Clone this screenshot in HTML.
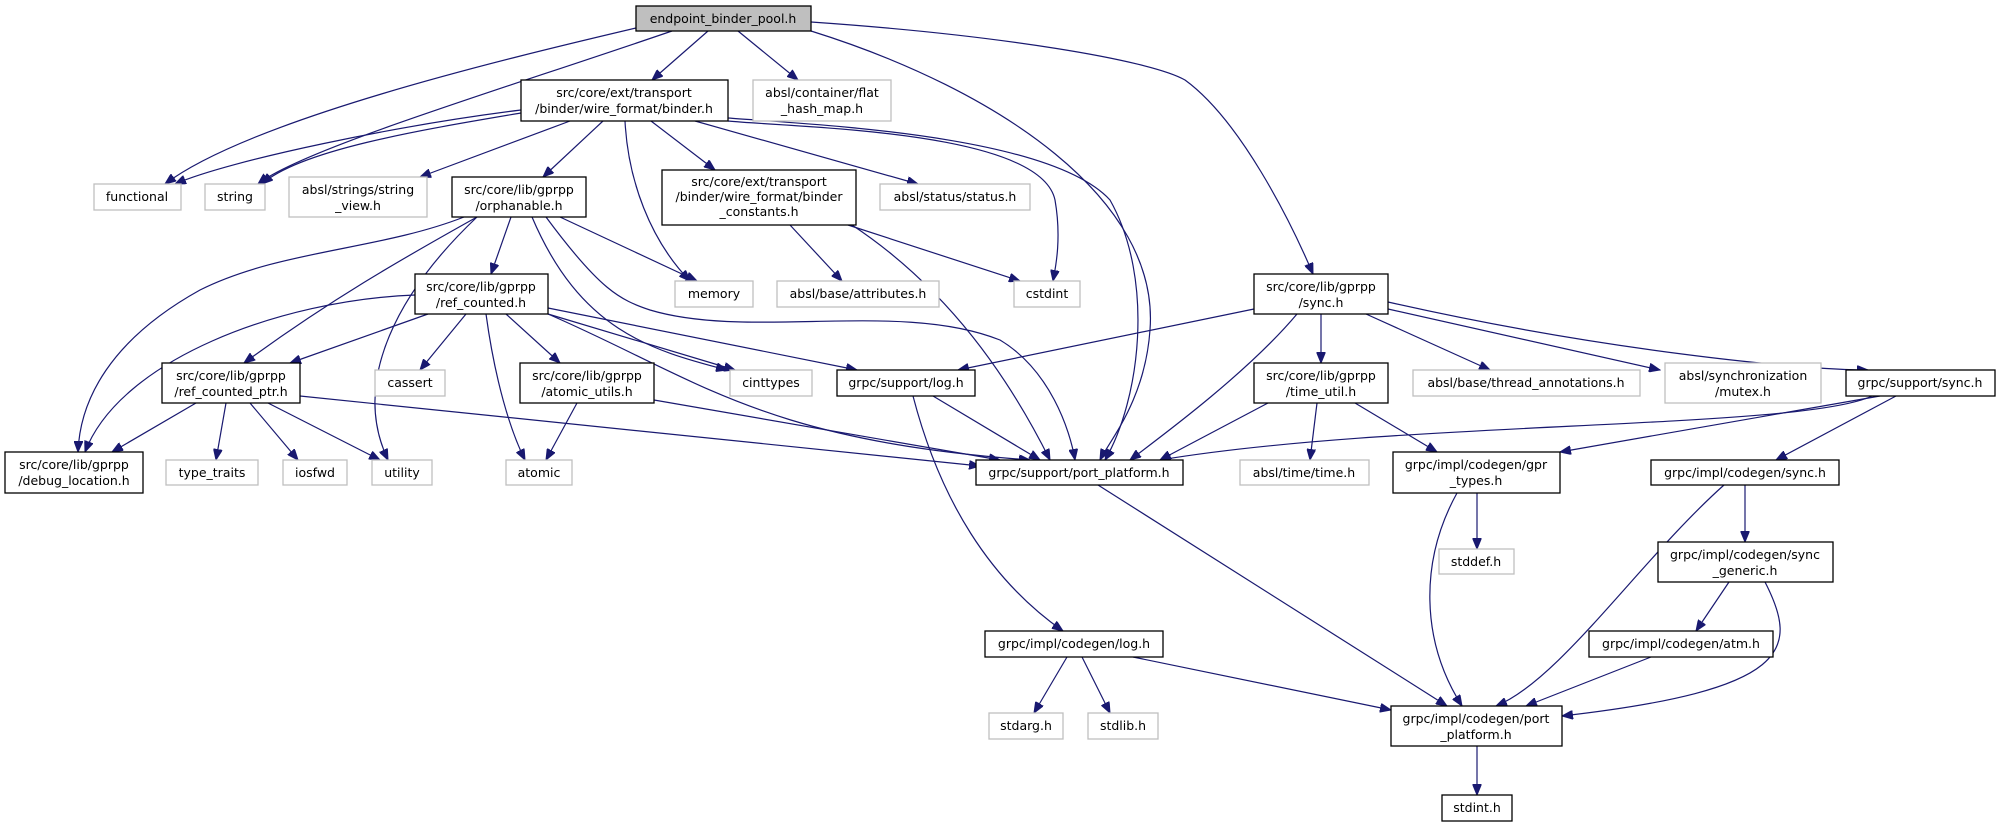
<!DOCTYPE html>
<html><head><meta charset="utf-8"><style>
html,body{margin:0;padding:0;background:#fff;}
svg{display:block;}
text{font-family:"DejaVu Sans","Liberation Sans",sans-serif;font-size:12.5px;fill:#000;text-anchor:middle;}
.e{fill:none;stroke:#191970;stroke-width:1.2;marker-end:url(#a);}
.b{fill:#fff;stroke:#000;stroke-width:1.3;}
.g{fill:#fff;stroke:#bfbfbf;stroke-width:1.3;}
</style></head><body>
<svg width="1999" height="827" viewBox="0 0 1999 827" xmlns="http://www.w3.org/2000/svg">
<defs><marker id="a" markerWidth="12" markerHeight="9" refX="11" refY="4.5" orient="auto" markerUnits="userSpaceOnUse"><path d="M0,0 L11,4.5 L0,9 z" fill="#191970" stroke="#191970"/></marker></defs>
<g>
<path class="e" d="M636,28 C500,60 250,120 165,184"/>
<path class="e" d="M672,31 C500,90 300,150 258,184"/>
<path class="e" d="M708,31 L652,80"/>
<path class="e" d="M738,31 L798,80"/>
<path class="e" d="M811,31 C1000,90 1160,200 1150,330 C1145,400 1110,440 1100,460"/>
<path class="e" d="M811,22 C1000,35 1150,60 1185,80 C1240,120 1290,220 1313,274"/>
<path class="e" d="M521,110 C400,125 230,160 175,184"/>
<path class="e" d="M521,113 C420,130 300,150 262,184"/>
<path class="e" d="M570,121 L420,177"/>
<path class="e" d="M603,121 L543,177"/>
<path class="e" d="M625,121 C628,180 650,240 690,281"/>
<path class="e" d="M651,121 L715,170"/>
<path class="e" d="M695,121 L918,184"/>
<path class="e" d="M728,121 C800,128 1040,130 1055,200 C1062,240 1055,270 1053,281"/>
<path class="e" d="M728,118 C820,125 1050,135 1110,200 C1155,280 1140,400 1105,460"/>
<path class="e" d="M464,217 C380,250 280,250 200,290 C110,340 80,400 78,452"/>
<path class="e" d="M477,217 C400,260 330,300 244,363"/>
<path class="e" d="M511,217 L491,274"/>
<path class="e" d="M477,217 C400,290 350,380 388,460"/>
<path class="e" d="M560,217 L697,281"/>
<path class="e" d="M532,217 C580,330 650,350 727,370"/>
<path class="e" d="M546,217 C600,290 620,300 650,310 C750,340 900,300 1000,340 C1050,370 1070,430 1075,460"/>
<path class="e" d="M790,225 L842,281"/>
<path class="e" d="M848,225 L1020,281"/>
<path class="e" d="M852,225 C950,290 1010,380 1050,460"/>
<path class="e" d="M415,295 C280,300 120,360 85,452"/>
<path class="e" d="M428,314 L290,363"/>
<path class="e" d="M466,314 L420,370"/>
<path class="e" d="M486,314 C495,380 510,430 525,460"/>
<path class="e" d="M506,314 L560,363"/>
<path class="e" d="M548,314 L735,370"/>
<path class="e" d="M548,308 L857,370"/>
<path class="e" d="M548,314 C700,380 760,440 1030,460"/>
<path class="e" d="M196,403 L112,452"/>
<path class="e" d="M226,403 L216,460"/>
<path class="e" d="M250,403 L298,460"/>
<path class="e" d="M268,403 L380,460"/>
<path class="e" d="M300,396 L980,466"/>
<path class="e" d="M577,403 L546,460"/>
<path class="e" d="M654,400 L1000,460"/>
<path class="e" d="M933,396 L1040,460"/>
<path class="e" d="M913,396 C940,500 990,580 1063,631"/>
<path class="e" d="M1254,309 L958,370"/>
<path class="e" d="M1297,314 C1250,370 1170,430 1130,460"/>
<path class="e" d="M1321,314 L1321,363"/>
<path class="e" d="M1366,314 L1490,370"/>
<path class="e" d="M1388,309 L1660,370"/>
<path class="e" d="M1388,302 C1600,350 1800,370 1868,370"/>
<path class="e" d="M1268,403 L1160,460"/>
<path class="e" d="M1317,403 L1310,460"/>
<path class="e" d="M1355,403 L1437,452"/>
<path class="e" d="M1872,396 C1800,430 1400,420 1160,460"/>
<path class="e" d="M1880,396 L1560,452"/>
<path class="e" d="M1896,396 L1776,460"/>
<path class="e" d="M1098,485 L1447,706"/>
<path class="e" d="M1477,493 L1477,549"/>
<path class="e" d="M1457,493 C1420,560 1420,640 1462,706"/>
<path class="e" d="M1745,485 L1745,542"/>
<path class="e" d="M1724,485 C1640,560 1560,680 1496,706"/>
<path class="e" d="M1729,582 L1696,631"/>
<path class="e" d="M1765,582 C1800,650 1790,690 1562,716"/>
<path class="e" d="M1651,657 L1526,706"/>
<path class="e" d="M1067,657 L1034,713"/>
<path class="e" d="M1082,657 L1110,713"/>
<path class="e" d="M1133,657 L1391,710"/>
<path class="e" d="M1477,746 L1477,795"/>
</g>
<g>
<rect x="636" y="6" width="175" height="25" fill="#bfbfbf" stroke="#000" stroke-width="1.3"/><text x="723" y="23">endpoint_binder_pool.h</text>
<rect class="b" x="521" y="80" width="207" height="41"/><text x="624" y="97">src/core/ext/transport</text><text x="624" y="113">/binder/wire_format/binder.h</text>
<rect class="g" x="753" y="80" width="138" height="41"/><text x="822" y="97">absl/container/flat</text><text x="822" y="113">_hash_map.h</text>
<rect class="g" x="94" y="184" width="87" height="26"/><text x="137" y="201">functional</text>
<rect class="g" x="205" y="184" width="60" height="26"/><text x="235" y="201">string</text>
<rect class="g" x="289" y="177" width="138" height="40"/><text x="358" y="194">absl/strings/string</text><text x="358" y="210">_view.h</text>
<rect class="b" x="452" y="177" width="134" height="40"/><text x="519" y="194">src/core/lib/gprpp</text><text x="519" y="210">/orphanable.h</text>
<rect class="b" x="662" y="170" width="194" height="55"/><text x="759" y="186">src/core/ext/transport</text><text x="759" y="201">/binder/wire_format/binder</text><text x="759" y="216">_constants.h</text>
<rect class="g" x="880" y="184" width="150" height="26"/><text x="955" y="201">absl/status/status.h</text>
<rect class="g" x="675" y="281" width="78" height="26"/><text x="714" y="298">memory</text>
<rect class="g" x="777" y="281" width="162" height="26"/><text x="858" y="298">absl/base/attributes.h</text>
<rect class="g" x="1014" y="281" width="66" height="26"/><text x="1047" y="298">cstdint</text>
<rect class="b" x="1254" y="274" width="134" height="40"/><text x="1321" y="291">src/core/lib/gprpp</text><text x="1321" y="307">/sync.h</text>
<rect class="b" x="415" y="274" width="133" height="40"/><text x="481" y="291">src/core/lib/gprpp</text><text x="481" y="307">/ref_counted.h</text>
<rect class="b" x="162" y="363" width="138" height="40"/><text x="231" y="380">src/core/lib/gprpp</text><text x="231" y="396">/ref_counted_ptr.h</text>
<rect class="g" x="375" y="370" width="70" height="26"/><text x="410" y="387">cassert</text>
<rect class="b" x="520" y="363" width="134" height="40"/><text x="587" y="380">src/core/lib/gprpp</text><text x="587" y="396">/atomic_utils.h</text>
<rect class="g" x="730" y="370" width="82" height="26"/><text x="771" y="387">cinttypes</text>
<rect class="b" x="837" y="370" width="138" height="26"/><text x="906" y="387">grpc/support/log.h</text>
<rect class="b" x="1254" y="363" width="134" height="40"/><text x="1321" y="380">src/core/lib/gprpp</text><text x="1321" y="396">/time_util.h</text>
<rect class="g" x="1413" y="370" width="227" height="26"/><text x="1526" y="387">absl/base/thread_annotations.h</text>
<rect class="g" x="1665" y="363" width="156" height="40"/><text x="1743" y="380">absl/synchronization</text><text x="1743" y="396">/mutex.h</text>
<rect class="b" x="1846" y="370" width="149" height="26"/><text x="1920" y="387">grpc/support/sync.h</text>
<rect class="b" x="5" y="452" width="138" height="41"/><text x="74" y="469">src/core/lib/gprpp</text><text x="74" y="485">/debug_location.h</text>
<rect class="g" x="166" y="460" width="92" height="25"/><text x="212" y="477">type_traits</text>
<rect class="g" x="283" y="460" width="64" height="25"/><text x="315" y="477">iosfwd</text>
<rect class="g" x="372" y="460" width="60" height="25"/><text x="402" y="477">utility</text>
<rect class="g" x="506" y="460" width="66" height="25"/><text x="539" y="477">atomic</text>
<rect class="b" x="976" y="460" width="207" height="25"/><text x="1079" y="477">grpc/support/port_platform.h</text>
<rect class="g" x="1240" y="460" width="129" height="25"/><text x="1304" y="477">absl/time/time.h</text>
<rect class="b" x="1393" y="452" width="167" height="41"/><text x="1476" y="469">grpc/impl/codegen/gpr</text><text x="1476" y="485">_types.h</text>
<rect class="b" x="1651" y="460" width="188" height="25"/><text x="1745" y="477">grpc/impl/codegen/sync.h</text>
<rect class="g" x="1439" y="549" width="75" height="25"/><text x="1476" y="566">stddef.h</text>
<rect class="b" x="1658" y="542" width="175" height="40"/><text x="1745" y="559">grpc/impl/codegen/sync</text><text x="1745" y="575">_generic.h</text>
<rect class="b" x="985" y="631" width="178" height="26"/><text x="1074" y="648">grpc/impl/codegen/log.h</text>
<rect class="b" x="1589" y="631" width="184" height="26"/><text x="1681" y="648">grpc/impl/codegen/atm.h</text>
<rect class="g" x="989" y="713" width="74" height="26"/><text x="1026" y="730">stdarg.h</text>
<rect class="g" x="1088" y="713" width="70" height="26"/><text x="1123" y="730">stdlib.h</text>
<rect class="b" x="1391" y="706" width="171" height="40"/><text x="1476" y="723">grpc/impl/codegen/port</text><text x="1476" y="739">_platform.h</text>
<rect class="b" x="1442" y="795" width="70" height="26"/><text x="1477" y="812">stdint.h</text>
</g>
</svg>
</body></html>
